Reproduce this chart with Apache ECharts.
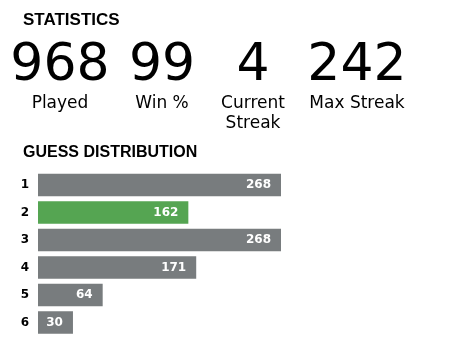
<!DOCTYPE html>
<html>
<head>
<meta charset="utf-8">
<script src="https://cdn.jsdelivr.net/npm/echarts@6/dist/echarts.min.js"></script>
<style>
html,body{margin:0;padding:0;background:#fff;}
#chart{width:474px;height:345px;}
</style>
</head>
<body>
<div id="chart"></div>
<script>
// ---- data ----
var statValues = ['968', '99', '4', '242'];
var statLabels = ['Played', 'Win %', 'Current\nStreak', 'Max Streak'];
var guesses = ['1', '2', '3', '4', '5', '6'];
var guessCounts = [268, 162, 268, 171, 64, 30];
var highlightGuess = '2';

var axisMin = -10;
var axisMax = 268;
var GRAY = '#787c7e';
var GREEN = '#55a552';

var chart = echarts.init(document.getElementById('chart'), null, {renderer: 'canvas'});

var statX = [60, 162, 253, 357];
var graphics = [
  {type: 'text', left: 23, top: 12, style: {text: 'STATISTICS', font: 'bold 17px "Liberation Sans"', fill: '#000'}},
  {type: 'text', left: 23, top: 145, style: {text: 'GUESS DISTRIBUTION', font: 'bold 16px "Liberation Sans"', fill: '#000'}}
];
statValues.forEach(function (v, i) {
  graphics.push({type: 'text', x: statX[i], y: 66, style: {text: v, font: '52px "DejaVu Sans"', fill: '#000', textAlign: 'center', textVerticalAlign: 'middle'}});
  graphics.push({type: 'text', x: statX[i], y: 94, style: {text: statLabels[i], font: '17px "DejaVu Sans"', lineHeight: 20, fill: '#000', textAlign: 'center', textVerticalAlign: 'top'}});
});

var seriesData = guessCounts.map(function (c, i) { return [c, i]; });

chart.setOption({
  animation: false,
  graphic: graphics,
  grid: {left: 38, right: 193, top: 171.25, height: 165, containLabel: false},
  xAxis: {type: 'value', min: axisMin, max: axisMax, show: false},
  yAxis: {
    type: 'category', data: guesses, inverse: true,
    axisLine: {show: false}, axisTick: {show: false}, splitLine: {show: false},
    axisLabel: {color: '#000', fontFamily: 'DejaVu Sans', fontWeight: 'bold', fontSize: 12, margin: 9}
  },
  series: [{
    type: 'custom',
    encode: {x: 0, y: 1},
    data: seriesData,
    renderItem: function (params, api) {
      var v = api.value(0);
      var cat = api.value(1);
      var s = api.coord([axisMin, cat]);
      var e = api.coord([v, cat]);
      var h = api.size([0, 1])[1] * 0.82;
      var color = guesses[cat] === highlightGuess ? GREEN : GRAY;
      return {
        type: 'rect',
        shape: {x: s[0], y: s[1] - h / 2, width: e[0] - s[0], height: h},
        style: {fill: color},
        textContent: {style: {text: String(v), fill: '#fff', font: 'bold 12px "DejaVu Sans"'}},
        textConfig: {position: 'insideRight', distance: 10}
      };
    }
  }]
});
</script>
</body>
</html>
